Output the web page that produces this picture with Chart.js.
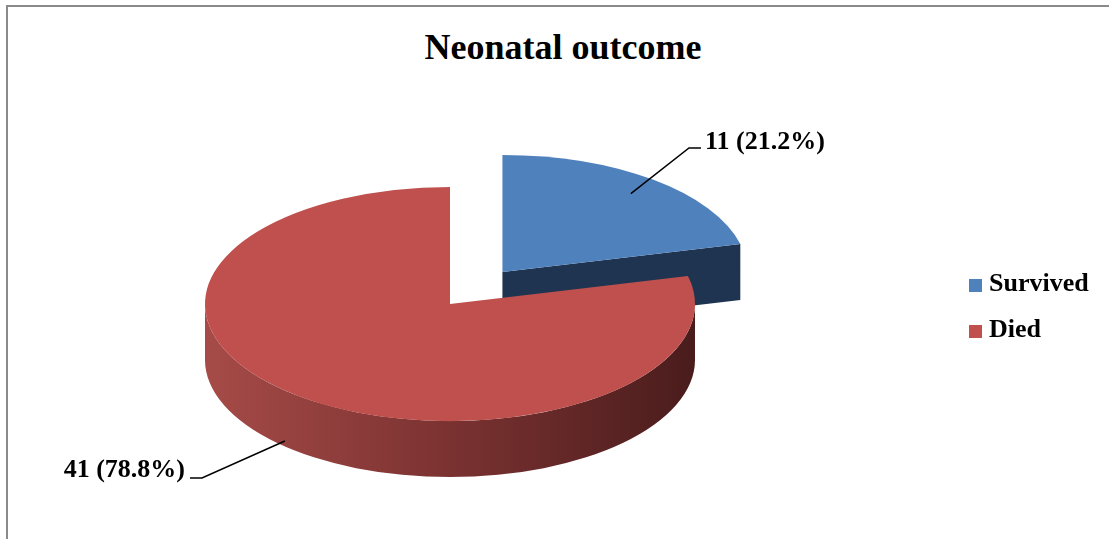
<!doctype html>
<html lang="en">
<head>
  <meta charset="utf-8">
  <title>Neonatal outcome</title>
  <style>
    html, body {
      margin: 0;
      padding: 0;
      background: #fff;
      width: 1109px;
      height: 539px;
      overflow: hidden;
      font-family: 'Liberation Serif', 'Times New Roman', serif;
    }
    .frame {
      position: absolute;
      left: 6px;
      top: 5px;
      width: 1200px;
      height: 700px;
      border: 2px solid #8a8a8a;
    }
    .title {
      position: absolute;
      left: 0;
      top: 29px;
      width: 1126px;
      text-align: center;
      font-size: 36px;
      line-height: 36px;
      font-weight: bold;
      color: #000;
    }
    #chart {
      position: absolute;
      left: 0;
      top: 0;
    }
    .legend {
      position: absolute;
      left: 969px;
      top: 270px;
    }
    .legend-item {
      position: relative;
      height: 46px;
      font-size: 26px;
      line-height: 26px;
      font-weight: bold;
      padding-left: 20px;
      white-space: nowrap;
    }
    .legend-item i {
      position: absolute;
      left: 0;
      top: 9px;
      width: 13px;
      height: 13px;
    }
  </style>
</head>
<body>
  <div class="frame"></div>
  <div class="title">Neonatal outcome</div>
  <canvas id="chart" width="1109" height="539"></canvas>
  <div class="legend" id="legend"></div>

  <script src="https://cdn.jsdelivr.net/npm/chart.js"></script>
  <script>
    const categories = ['Survived', 'Died'];
    const counts     = [11, 41];
    const colours    = ['#4F81BD', '#C0504D'];

    // 3d look
    const squash  = 0.478;   // ry / rx
    const depth   = 56;
    const explode = [85, 0];

    const total = counts.reduce((a, b) => a + b, 0);
    const labels = counts.map(v => v + ' (' + (v / total * 100).toFixed(1) + '%)');

    // legend
    const legendEl = document.getElementById('legend');
    categories.forEach((c, i) => {
      const d = document.createElement('div');
      d.className = 'legend-item';
      d.innerHTML = '<i style="background:' + colours[i] + '"></i>' + c;
      legendEl.appendChild(d);
    });

    function shade(ctx, arc, ox, oy) {
      const R = arc.outerRadius;
      return { X: ox, Y: oy, R: R, ry: R * squash };
    }

    const pie3d = {
      id: 'pie3d',
      beforeDatasetsDraw(chart) {
        const ctx = chart.ctx;
        const arcs = chart.getDatasetMeta(0).data;
        const items = arcs.map((arc, i) => {
          const mid = (arc.startAngle + arc.endAngle) / 2;
          const ex = Math.cos(mid) * explode[i];
          const ey = Math.sin(mid) * explode[i];
          return { arc, i, mid, ex, ey, X: arc.x + ex, Y: arc.y + ey * squash };
        });
        // back slices first
        items.sort((a, b) => a.Y - b.Y);

        items.forEach(it => {
          const { arc, i, X, Y } = it;
          const R = arc.outerRadius, ry = R * squash;
          const a0 = arc.startAngle, a1 = arc.endAngle;

          // front rim
          let s = Math.max(a0, 0), e = Math.min(a1, Math.PI);
          if (e > s) {
            const g = ctx.createLinearGradient(X - R, 0, X + R, 0);
            if (i === 1) {
              g.addColorStop(0, '#A64B48');
              g.addColorStop(0.5, '#7A3231');
              g.addColorStop(1, '#4A1C1C');
            } else {
              g.addColorStop(0, '#3A5F8E');
              g.addColorStop(1, '#1F3451');
            }
            ctx.beginPath();
            ctx.ellipse(X, Y, R, ry, 0, s, e, false);
            ctx.lineTo(X + R * Math.cos(e), Y + ry * Math.sin(e) + depth);
            ctx.ellipse(X, Y + depth, R, ry, 0, e, s, true);
            ctx.closePath();
            ctx.fillStyle = g;
            ctx.fill();
          }

          // cut faces that turn toward the viewer
          [[a1, Math.cos(a1)], [a0, -Math.cos(a0)]].forEach(([a, vis]) => {
            if (vis <= 0.01) return;
            const px = X + R * Math.cos(a), py = Y + ry * Math.sin(a);
            ctx.beginPath();
            ctx.moveTo(X, Y);
            ctx.lineTo(px, py);
            ctx.lineTo(px, py + depth);
            ctx.lineTo(X, Y + depth);
            ctx.closePath();
            ctx.fillStyle = i === 0 ? '#1F3451' : '#6B2A28';
            ctx.fill();
          });

          // top face, drawn by the arc element itself
          ctx.save();
          ctx.translate(arc.x, arc.y);
          ctx.scale(1, squash);
          ctx.translate(-arc.x + it.ex, -arc.y + it.ey);
          arc.draw(ctx);
          ctx.restore();
        });

        // data labels with leader lines
        ctx.save();
        ctx.strokeStyle = '#000';
        ctx.lineWidth = 1.5;
        ctx.fillStyle = '#000';
        ctx.font = 'bold 26px "Liberation Serif", "Times New Roman", serif';
        ctx.textBaseline = 'alphabetic';
        items.forEach(it => {
          const { arc, i, mid, X, Y } = it;
          const R = arc.outerRadius, ry = R * squash;
          ctx.beginPath();
          if (i === 0) {
            const ax = X + 0.85 * R * Math.cos(mid), ay = Y + 0.85 * ry * Math.sin(mid);
            ctx.moveTo(ax, ay);
            ctx.lineTo(689, 148);
            ctx.lineTo(701, 148);
            ctx.stroke();
            ctx.textAlign = 'left';
            ctx.fillText(labels[i], 705, 149);
          } else {
            const ax = X + R * Math.cos(mid) - 14, ay = Y + ry * Math.sin(mid) + depth * 0.8;
            ctx.moveTo(ax, ay);
            ctx.lineTo(202, 478);
            ctx.lineTo(190, 478);
            ctx.stroke();
            ctx.textAlign = 'right';
            ctx.fillText(labels[i], 185, 477);
          }
        });
        ctx.restore();
        return false;
      }
    };

    new Chart(document.getElementById('chart'), {
      type: 'pie',
      data: {
        labels: categories,
        datasets: [{
          data: counts,
          backgroundColor: colours,
          borderWidth: 0,
          offset: 0
        }]
      },
      options: {
        responsive: false,
        animation: false,
        devicePixelRatio: 1,
        radius: 245,
        rotation: 0,
        layout: { padding: { left: 0, right: 209, top: 69, bottom: 0 } },
        plugins: {
          legend: { display: false },
          title: { display: false },
          tooltip: { enabled: false }
        }
      },
      plugins: [pie3d]
    });
  </script>
</body>
</html>
